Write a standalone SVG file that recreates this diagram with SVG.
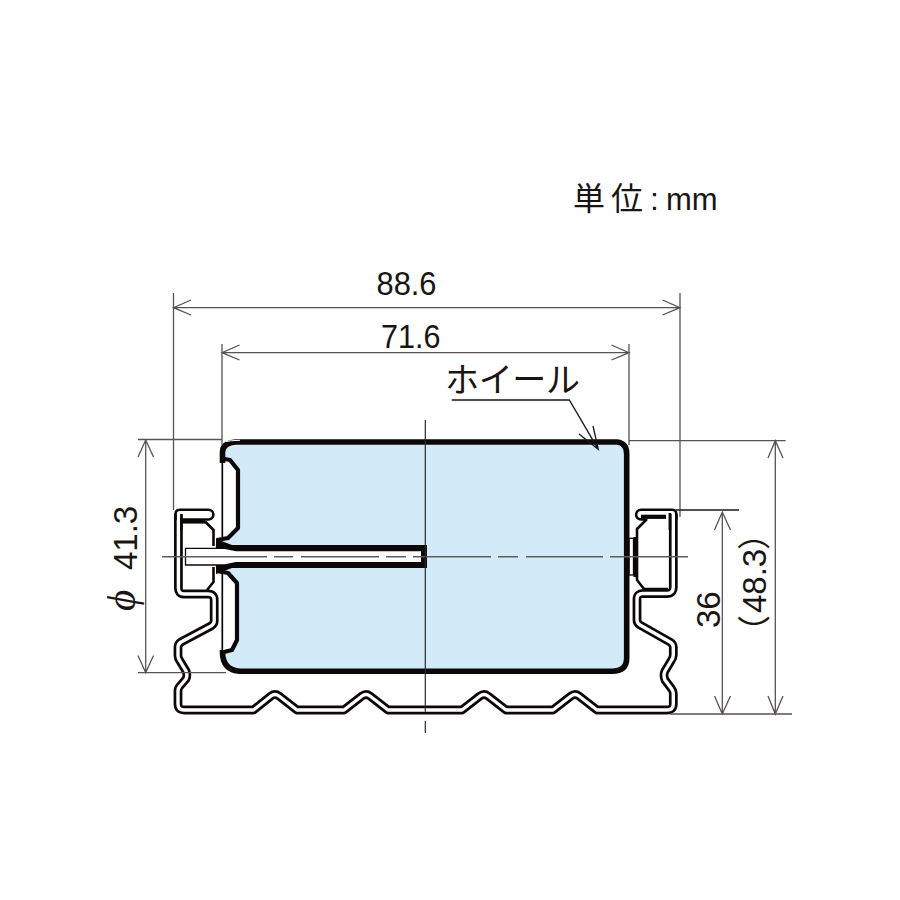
<svg xmlns="http://www.w3.org/2000/svg" width="900" height="900" viewBox="0 0 900 900">
<style>
.rb{fill:none;stroke:#0c0808;stroke-width:8.8;stroke-linejoin:round}
.rw{fill:none;stroke:#fff;stroke-width:3.4;stroke-linejoin:round}
.l{fill:none;stroke:#0c0808;stroke-width:2.6;stroke-linejoin:round}
.th{fill:none;stroke:#0c0808;stroke-width:4.2;stroke-linejoin:round}
.w{fill:none;stroke:#0c0808;stroke-width:5.6;stroke-linejoin:round}
.d{fill:none;stroke:#5a5252;stroke-width:1.3}
.k{fill:none;stroke:#1c1414;stroke-width:1.3}
.c{fill:none;stroke:#5c5c5c;stroke-width:1.4}
text{font-family:"Liberation Sans","Noto Sans CJK JP",sans-serif;fill:#1a1414}
</style>
<defs>
<path id="rail" d="M178.4 514V588Q178.4 594 184 594H208Q214.2 594 214.2 600V621Q214.2 624 211 626L181 642Q178 644 178 647V656Q178 658 180 661L186 671Q187.7 675 186 679L180 686Q178 688 178 691V704Q178 710 184 710H253.5L271 696Q275 693 279 696L297 710H344L362 696Q366 693 370 696L388 710H462L480 696Q484 693 488 696L506 710H553L571 696Q575 693 579 696L597 710H667Q673.3 710 673.3 704V693Q673.3 691 671 688L665 680Q663 675 665 671L671 661Q673.3 658 673.3 655V647Q673.3 644 670 642L640 625Q637 623 637 620V599Q637 593.5 643 593.5H667Q673.3 593.5 673.3 587V514"/>
</defs>
<g id="wheel-fill">
<path fill="#d3ebf9" d="M224 452Q226 445 240 445H615Q625 445 625 455V658Q625 669 612 669H240Q226 668 224 653L232 650L238 640V583L228 573L215 568V544L228 538L238 528V470L230 460L224 458Z"/>
</g>
<g id="rail-section">
<use href="#rail" class="rb"/>
<use href="#rail" class="rw"/>
<path class="l" d="M175.5 520V514Q175.5 509.7 180 509.7H208.5A4.9 4.9 0 0 1 208.5 519.5H183"/>
<path class="l" d="M181.3 518V530"/>
<path class="th" d="M181 521.5H205"/>
<path class="l" d="M205 521.5L213.5 530V546M213.5 567V582L207 590"/>
<path class="l" d="M676.3 520V514Q676.3 509.7 672 509.7H641A4.9 4.9 0 0 0 641 519.5H646"/>
<path class="l" d="M669.9 513V530"/>
<path class="th" d="M641 516.8H666"/>
<path class="l" d="M647 519L637 529V580L644 589H668"/>
<path class="th" d="M635.5 537V577"/>
<rect x="629" y="538.3" width="4.5" height="36.7" fill="#fff" stroke="#0c0808" stroke-width="1.3"/>
</g>
<g id="wheel">
<path class="w" d="M222.5 463V452Q222.5 443 236 442H617Q626.7 443 626.7 454V658Q626.7 671.3 612 671.3H240Q222.5 670 222.5 652V650"/>
<path fill="none" stroke="#fff" stroke-width="1" d="M226 441.5Q230 440.5 240 440.3"/>
<path class="th" d="M222 458.5L230 460L238 470V528L228 538L217 540M217 571L228 573L237 583V640L232 650L222 652.5"/>
<path class="l" style="stroke-width:1.7" d="M222.3 463V537M222.3 573V650"/>
<path fill="#0c0808" d="M216 538L224 542L232 545H427V568H232L224 571L216 574Z"/>
<path fill="#fff" stroke="#0c0808" stroke-width="1.3" d="M185.5 548.3H225L236 550.5H421.7V562.7H236L225 565H185.5Z"/>
</g>
<g id="centerlines">
<path class="c" d="M162 556.7H267M274 556.7H293M301 556.7H379M386 556.7H406M413 556.7H491M498 556.7H518M526 556.7H603M610 556.7H688"/>
<path fill="none" stroke="#2a2a2a" stroke-width="1.2" d="M425.3 420V711.7M425.3 721V733"/>
</g>
<g id="dimensions">
<path class="d" d="M173.5 293V510M680 293V517M222 344V445M629 344V445"/>
<path class="d" d="M138 439.5H222M629 440.7H785.7M138 672.7H226M670 714H792"/>
<path class="k" d="M676 510H739"/>
<path class="d" d="M173.5 307.7H680M191 300L173.5 307.7L191 315M662.5 300L680 307.7L662.5 315"/>
<path class="d" d="M222 352.7H629M239.5 345L222 352.7L239.5 360M611.5 345L629 352.7L611.5 360"/>
<path class="d" d="M145.7 440V672.7M138 457L145.7 440L153.5 457M138 655.5L145.7 672.7L153.5 655.5"/>
<path class="d" d="M722.3 512V714M714.5 530L722.3 512L730.5 530M714.5 696L722.3 714L730.5 696"/>
<path class="d" d="M775.3 440.7V714M768 458L775.3 440.7L783 458M768 696L775.3 714L783 696"/>
<path class="k" d="M451.7 400H569.3L598.3 449.3M579 434L598.3 449.3L593 426"/>
</g>
<g id="labels">
<text y="210" font-size="32"><tspan x="573" letter-spacing="6">単位</tspan><tspan x="650">:</tspan><tspan x="666" font-size="31">mm</tspan></text>
<text x="376.5" y="295" font-size="33" textLength="60" lengthAdjust="spacingAndGlyphs">88.6</text>
<text x="381" y="348.3" font-size="33" textLength="59.5" lengthAdjust="spacingAndGlyphs">71.6</text>
<text x="445" y="392" font-size="34" textLength="135" lengthAdjust="spacing">ホイール</text>
<text transform="translate(135 611) rotate(-90)" font-size="33"><tspan x="0" font-size="41" style="font-family:'Liberation Serif',serif" font-style="italic">ϕ</tspan><tspan x="41" dy="2.3">41.3</tspan></text>
<text transform="translate(720 628) rotate(-90)" font-size="33">36</text>
<text transform="translate(765.5 648) rotate(-90)" font-size="33"><tspan x="0">（</tspan><tspan x="35">48.3</tspan><tspan x="98">）</tspan></text>
</g>
</svg>
